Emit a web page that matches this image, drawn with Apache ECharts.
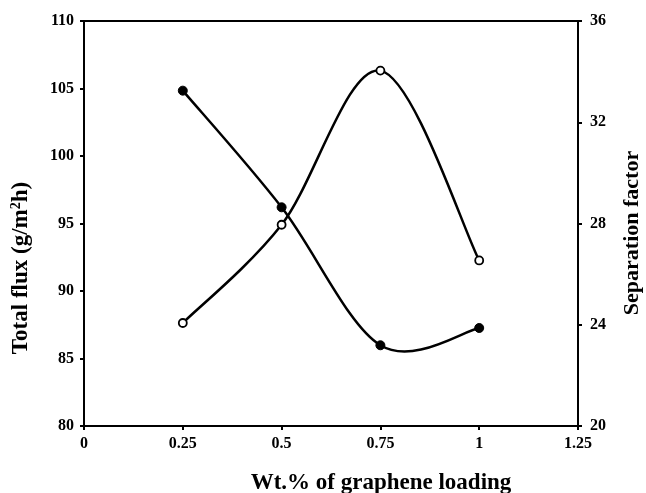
<!DOCTYPE html>
<html><head><meta charset="utf-8">
<script src="https://cdn.jsdelivr.net/npm/echarts@6/dist/echarts.min.js"></script>
<style>html,body{margin:0;padding:0;background:#fff}#c{width:646px;height:493px}</style>
</head><body><div id="c"></div>
<script>
const loading = [0.25, 0.5, 0.75, 1.0];
const totalFlux = [104.84, 96.2, 85.98, 87.26];
const separationFactor = [24.07, 27.95, 34.04, 26.54];
const xTitle = 'Wt.% of graphene loading';
const yLeftTitle = 'Total flux (g/m{sup|2}h)';
const yRightTitle = 'Separation factor';

const F = 'Liberation Serif';
const chart = echarts.init(document.getElementById('c'), null, {renderer: 'canvas'});
const lbl = {color: '#000', fontFamily: F, fontWeight: 'bold', fontSize: 16};

// smooth curve segment (Catmull-Rom style bezier) drawn through data points via axis scales
function curveRenderer(values) {
  return function (params, api) {
    const i = params.dataIndex;
    const n = loading.length;
    if (i >= n - 1) return null;
    const P = k => api.coord([loading[Math.max(0, Math.min(n - 1, k))], values[Math.max(0, Math.min(n - 1, k))]]);
    const p0 = P(i - 1), p1 = P(i), p2 = P(i + 1), p3 = P(i + 2);
    const t = 1 / 6;
    const c1 = [p1[0] + (p2[0] - p0[0]) * t, p1[1] + (p2[1] - p0[1]) * t];
    const c2 = [p2[0] - (p3[0] - p1[0]) * t, p2[1] - (p3[1] - p1[1]) * t];
    return {
      type: 'bezierCurve',
      shape: {x1: p1[0], y1: p1[1], x2: p2[0], y2: p2[1], cpx1: c1[0], cpy1: c1[1], cpx2: c2[0], cpy2: c2[1]},
      style: {stroke: '#000', lineWidth: 2.5, fill: null}
    };
  };
}

chart.setOption({
  animation: false,
  grid: {left: 84, right: 68, top: 21, bottom: 67, show: true, borderColor: '#000', borderWidth: 2},
  xAxis: {
    type: 'value', min: 0, max: 1.25, interval: 0.25,
    axisLine: {lineStyle: {color: '#000', width: 2}},
    axisTick: {show: true, length: 4, lineStyle: {color: '#000', width: 2}},
    axisLabel: Object.assign({margin: 10}, lbl),
    splitLine: {show: false}
  },
  yAxis: [{
    type: 'value', min: 80, max: 110, interval: 5, position: 'left',
    axisLine: {show: true, lineStyle: {color: '#000', width: 2}},
    axisTick: {show: true, length: 4, lineStyle: {color: '#000', width: 2}},
    axisLabel: Object.assign({margin: 10}, lbl),
    splitLine: {show: false}
  }, {
    type: 'value', min: 20, max: 36, interval: 4, position: 'right',
    axisLine: {show: true, lineStyle: {color: '#000', width: 2}},
    axisTick: {show: true, length: 4, lineStyle: {color: '#000', width: 2}},
    axisLabel: Object.assign({margin: 12}, lbl),
    splitLine: {show: false}
  }],
  graphic: [
    {type: 'text', x: 381, y: 483, style: {text: xTitle, fill: '#000', align: 'center', verticalAlign: 'middle', font: 'bold 23px "Liberation Serif"'}},
    {type: 'text', x: 21, y: 268, rotation: Math.PI / 2, style: {text: yLeftTitle, fill: '#000', align: 'center', verticalAlign: 'middle', font: 'bold 23px "Liberation Serif"', rich: {sup: {fontSize: 14, fontWeight: 'bold', fontFamily: F, verticalAlign: 'top', padding: [0, 0, 9, 0]}}}},
    {type: 'text', x: 632, y: 233, rotation: Math.PI / 2, style: {text: yRightTitle, fill: '#000', align: 'center', verticalAlign: 'middle', font: 'bold 22px "Liberation Serif"'}}
  ],
  series: [{
    type: 'custom', yAxisIndex: 0, data: loading.map((x, i) => [x, totalFlux[i]]),
    encode: {x: 0, y: 1}, renderItem: curveRenderer(totalFlux), z: 2
  }, {
    type: 'custom', yAxisIndex: 1, data: loading.map((x, i) => [x, separationFactor[i]]),
    encode: {x: 0, y: 1}, renderItem: curveRenderer(separationFactor), z: 2
  }, {
    type: 'scatter', yAxisIndex: 0, data: loading.map((x, i) => [x, totalFlux[i]]),
    symbol: 'circle', symbolSize: 9, z: 5,
    itemStyle: {color: '#000', borderColor: '#000', borderWidth: 1, opacity: 1}
  }, {
    type: 'scatter', yAxisIndex: 1, data: loading.map((x, i) => [x, separationFactor[i]]),
    symbol: 'circle', symbolSize: 8, z: 5,
    itemStyle: {color: '#fff', borderColor: '#000', borderWidth: 1.8, opacity: 1}
  }]
});
</script></body></html>
